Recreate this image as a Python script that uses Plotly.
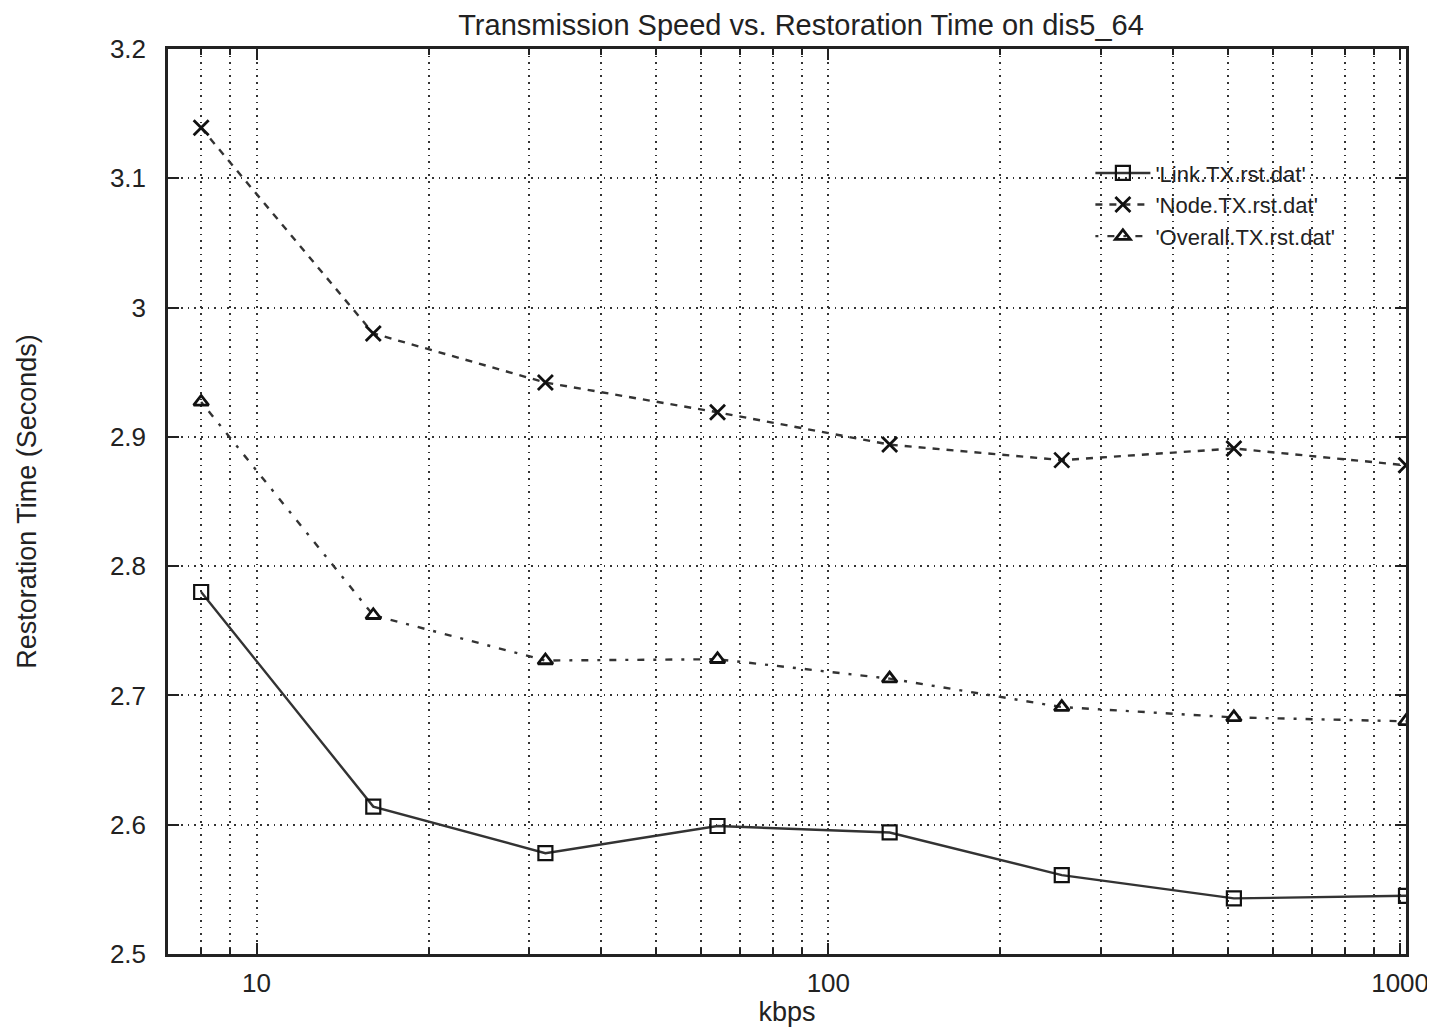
import plotly.graph_objects as go
import math

kbps = [8, 16, 32, 64, 128, 256, 512, 1024]
link_tx = [2.780, 2.614, 2.578, 2.599, 2.594, 2.561, 2.543, 2.545]
node_tx = [3.139, 2.980, 2.942, 2.919, 2.894, 2.882, 2.891, 2.878]
overall_tx = [2.927, 2.762, 2.727, 2.728, 2.713, 2.691, 2.683, 2.680]

names = ["'Link.TX.rst.dat'", "'Node.TX.rst.dat'", "'Overall.TX.rst.dat'"]

x_major = [10, 100, 1000]
x_minor = [8, 9, 20, 30, 40, 50, 60, 70, 80, 90,
           200, 300, 400, 500, 600, 700, 800, 900]
y_ticks = [2.5, 2.6, 2.7, 2.8, 2.9, 3.0, 3.1, 3.2]
y_labels = ["2.5", "2.6", "2.7", "2.8", "2.9", "3", "3.1", "3.2"]

FONT = "Liberation Sans, Arial, sans-serif"
INK = "#222222"

# page has an 8px body margin: figure occupies (8,8)-(1435,1027)
W, H = 1427, 1019

fig = go.Figure()
fig.add_trace(go.Scatter(
    x=kbps, y=link_tx, name=names[0], mode="lines+markers",
    line=dict(color="#333333", width=2.4, dash="solid"),
    marker=dict(symbol="square-open", size=14, color="#111111",
                line=dict(width=2.2, color="#111111")),
))
fig.add_trace(go.Scatter(
    x=kbps, y=node_tx, name=names[1], mode="lines+markers",
    line=dict(color="#333333", width=2.4, dash="7px,7px"),
    marker=dict(symbol="x-thin", size=15, color="#111111",
                line=dict(width=2.8, color="#111111")),
))
fig.add_trace(go.Scatter(
    x=kbps, y=overall_tx, name=names[2], mode="lines+markers",
    line=dict(color="#333333", width=2.4, dash="3px,9px,7px,9px"),
    marker=dict(symbol="triangle-up-open", size=13, color="#111111",
                line=dict(width=2.8, color="#111111")),
))

fig.update_layout(
    width=W, height=H,
    margin=dict(l=160, r=29, t=41, b=73),
    paper_bgcolor="white", plot_bgcolor="white",
    font=dict(family=FONT, size=26, color=INK),
    title=dict(text="Transmission Speed vs. Restoration Time on dis5_64",
               x=(801 - 8) / W, xanchor="center", y=1 - 17 / H, yanchor="middle",
               xref="container", yref="container",
               font=dict(size=29, family=FONT, color=INK)),
    showlegend=True,
    legend=dict(x=0.947, xanchor="right", y=0.886, yanchor="top",
                bgcolor="rgba(0,0,0,0)", font=dict(size=22, family=FONT, color=INK),
                itemwidth=55, tracegroupgap=0),
    xaxis=dict(
        type="log", range=[math.log10(7), math.log10(1024)],
        tickmode="array", tickvals=x_major, ticktext=[str(v) for v in x_major],
        ticks="inside", ticklen=11, tickwidth=2, tickcolor=INK,
        showline=True, linecolor=INK, linewidth=2.5, mirror="ticks",
        showgrid=True, gridcolor="#333333", gridwidth=1.6, griddash="1.6px,5px",
        zeroline=False, automargin=False,
        ticklabelstandoff=4,
        tickfont=dict(size=26, family=FONT, color=INK),
        minor=dict(tickmode="array", tickvals=x_minor, ticks="inside",
                   ticklen=6, tickwidth=2, tickcolor=INK, showgrid=True,
                   gridcolor="#333333", gridwidth=1.6, griddash="1.6px,5px"),
        title=dict(text="kbps", standoff=12, font=dict(size=27, family=FONT, color=INK)),
    ),
    yaxis=dict(
        range=[2.5, 3.2],
        tickmode="array", tickvals=y_ticks, ticktext=y_labels,
        ticks="inside", ticklen=11, tickwidth=2, tickcolor=INK,
        showline=True, linecolor=INK, linewidth=2.5, mirror="ticks",
        showgrid=True, gridcolor="#333333", gridwidth=1.6, griddash="1.6px,5px",
        zeroline=False, automargin=False,
        ticklabelstandoff=14,
        tickfont=dict(size=26, family=FONT, color=INK),
        title=dict(text="Restoration Time (Seconds)", standoff=66,
                   font=dict(size=27, family=FONT, color=INK)),
    ),
)

fig.write_html("out.html")
